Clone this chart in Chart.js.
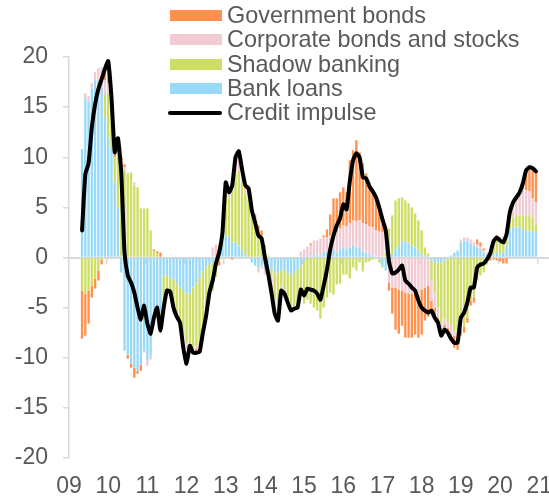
<!DOCTYPE html>
<html>
<head>
<meta charset="utf-8">
<script src="https://cdn.jsdelivr.net/npm/chart.js@4.4.1/dist/chart.umd.min.js"></script>
<style>
  html, body { margin: 0; padding: 0; background: #ffffff; }
  #wrap { position: relative; width: 549px; height: 500px; overflow: hidden; }
  #chart { position: absolute; left: 0; top: 0; }
  #legend { position: absolute; left: 0; top: 0; width: 549px; height: 130px; pointer-events: none;
            font-family: "Liberation Sans", Arial, sans-serif; font-size: 23.4px; color: #595959; }
  .li { position: absolute; left: 168px; height: 24.4px; line-height: 24.4px; white-space: nowrap; }
  .sw { position: absolute; top: 7px; left: 2px; width: 52px; height: 11px; }
  .ln { position: absolute; top: 10.5px; left: 0; width: 54px; height: 4px; border-radius: 2px; }
  .tx { position: absolute; left: 59px; top: 0; }
</style>
</head>
<body>
<div id="wrap">
  <canvas id="chart" width="549" height="500"></canvas>
  <div id="legend"></div>
</div>
<script>
// ---- categories: monthly, Jan 2009 .. Apr 2021 ----
const years = ['2009','2010','2011','2012','2013','2014','2015','2016','2017','2018','2019','2020','2021'];
const monthNames = ['01','02','03','04','05','06','07','08','09','10','11','12'];
const lastMonthCount = 4; // months shown for final year (axis runs to Apr 2021)

// ---- series (percent of GDP), one row per year, Jan..Dec ----
const bankLoans = [
  null,null,null,null,10.8,15.9,15.5,16.8,17.6,17.7,17.0,14.0,
  12.0,11.0,7.5,5.0,-1.5,-9.3,-9.7,-10.6,-11.0,-11.3,-10.7,-9.3,
  -10.3,-9.8,-6.8,-5.6,-5.5,-1.8,-1.8,-2.0,-2.2,-2.6,-3.0,-3.3,
  -3.6,-3.6,-3.0,-2.6,-2.0,-1.4,-1.0,-0.7,-0.5,-0.3,0.3,1.0,
  2.2,2.0,1.5,1.5,1.2,0.8,0.3,0.0,-0.5,-0.8,-1.0,-0.8,
  -1.2,-1.0,-1.2,-1.5,-1.5,-1.3,-1.2,-1.5,-1.8,-1.5,-1.2,-0.8,
  -0.3,0.2,0.0,0.3,0.2,0.2,0.5,0.6,0.7,0.8,0.5,0.8,
  1.0,0.8,1.0,1.2,1.0,1.0,0.6,0.5,0.3,0.2,0.0,-0.2,
  -0.8,-1.3,-0.5,0.3,0.8,1.2,1.6,1.6,1.4,1.2,1.0,0.7,
  0.3,0.2,0.1,-0.3,-0.5,-0.5,-0.5,-0.3,-0.2,0.2,0.5,0.7,
  1.5,1.7,1.6,1.4,1.2,1.0,0.8,0.5,0.3,0.3,0.3,0.5,
  0.3,0.6,1.2,2.8,3.0,3.0,3.0,2.8,2.7,2.6,2.6,2.5,
  null,null,null,null
];
const shadowBanking = [
  null,null,null,null,-3.3,-3.6,-3.3,-2.8,-2.1,-1.3,-0.2,2.2,
  4.4,4.0,2.5,6.3,9.0,8.7,8.3,8.5,7.2,7.0,4.9,4.9,
  4.9,2.7,0.6,0.4,-1.5,-3.2,-1.5,-1.4,-2.8,-3.0,-3.5,-4.5,
  -4.9,-5.0,-6.1,-6.2,-6.8,-6.1,-4.8,-2.8,-2.8,-1.6,-0.3,0.5,
  4.5,4.0,5.2,6.8,7.4,6.8,6.0,5.8,4.5,3.8,2.8,2.2,
  1.0,0.2,-0.5,-2.6,-3.8,-1.5,-2.0,-2.7,-3.3,-3.4,-3.6,-3.0,
  -4.3,-4.2,-4.6,-5.0,-5.3,-6.1,-5.0,-4.0,-3.5,-3.7,-2.7,-2.6,
  -1.7,-1.7,-2.1,-1.0,-1.3,-0.5,-1.4,-0.5,-0.4,-0.2,-0.1,-0.3,
  -0.2,0.5,2.9,3.9,4.9,4.7,4.4,4.1,4.0,3.8,3.4,3.0,
  2.4,0.8,0.3,-2.0,-3.0,-4.5,-6.0,-5.8,-6.2,-6.8,-7.3,-7.6,
  -7.2,-6.9,-6.0,-4.3,-4.0,-2.3,-1.8,-1.5,-0.7,0.1,1.2,1.5,
  1.5,1.3,1.4,0.5,1.0,1.2,1.2,1.4,1.5,1.6,1.4,0.8,
  null,null,null,null
];
const corporateBonds = [
  null,null,null,null,0,0.5,0.6,0.6,0.9,1.2,2.0,1.5,
  1.0,0.5,0,0.3,0.5,0.3,0.2,0,0.3,0,0,-0.2,
  -0.5,-0.4,0,0,-0.3,0,0,0,0,-0.3,0,-0.3,
  -0.6,0,-0.3,-0.3,-0.5,0,0,0,1.0,1.3,1.0,1.0,
  0.8,0.5,0.5,1.7,2.0,1.2,0.5,0.3,0.2,0,-0.5,-0.3,
  -0.5,-0.8,-1.8,-1.5,-1.0,-0.5,-0.4,-0.3,-0.2,-0.2,-0.2,0.6,
  0.8,0.9,1.2,1.4,1.5,1.7,1.5,1.4,1.5,1.8,2.0,2.1,
  2.2,2.3,2.4,2.5,2.6,2.7,2.8,2.8,2.8,2.8,2.7,2.6,
  2.5,2.2,-2.0,-3.0,-3.0,-3.2,-3.3,-3.5,-3.6,-3.6,-3.7,-3.8,
  -3.2,-3.0,-2.8,-2.0,-1.5,-1.0,-0.8,-0.6,-0.6,-0.8,-0.5,-0.3,
  0.3,0.3,0.4,0.4,0.3,0.3,0.3,0.2,0.2,0.3,0.3,0.3,
  0.3,0.2,0.3,1.0,1.2,1.5,2.5,2.6,2.5,2.4,1.9,2.2,
  null,null,null,null
];
const governmentBonds = [
  null,null,null,null,-4.8,-4.2,-3.3,-1.2,-1.0,-1.0,-0.5,1.5,
  2.0,0.5,0.5,0.3,0.5,0.3,-0.4,-0.4,-1.0,-0.3,-0.6,0,
  0,0,0.2,0.2,0.5,0,0,0,0,0,0,0,
  0,0,0,-0.4,0,0,0,0,0,0,-0.5,0,
  0,0,-0.2,0,0,0,0.4,0.8,0.5,0.5,0.4,0.5,
  0.2,0,0,0,0,0,0,0,0,0,0,0,
  0,0,0.2,0,0,0,0.2,0.8,2.1,3.3,3.4,3.6,
  3.8,3.4,6.3,7.0,8.1,6.8,6.0,5.1,4.4,3.8,3.3,1.9,
  1.2,0.5,-0.8,-2.6,-4.2,-4.4,-3.5,-4.5,-4.4,-4.4,-4.0,-4.2,
  -4.5,-3.3,-3.1,-1.0,-1.0,-0.5,-0.5,-0.5,-0.5,-0.7,-1.2,-1.3,
  -0.6,-0.6,-0.5,-0.5,-0.5,0.5,0.4,0.2,0,-0.3,-0.2,-0.3,
  -0.4,-0.6,-0.6,0.2,0.3,0.3,0,0.6,2.0,2.4,3.0,3.1,
  null,null,null,null
];
const creditImpulse = [
  null,null,null,null,2.7,8.3,9.4,13.0,15.3,16.8,17.8,18.8,
  19.6,16.0,10.5,11.9,8.5,0.5,-1.8,-2.5,-3.5,-5.0,-6.2,-4.8,
  -6.6,-7.6,-6.0,-5.0,-7.3,-5.0,-3.3,-3.4,-5.0,-5.9,-6.5,-9.0,
  -10.6,-8.8,-9.5,-9.5,-9.4,-7.5,-5.8,-3.5,-2.3,-0.6,0.5,2.5,
  7.5,6.5,7.2,10.0,10.6,8.8,7.2,6.9,4.7,3.5,2.2,1.9,
  0.0,-1.6,-3.5,-5.6,-6.3,-3.3,-3.6,-4.5,-5.3,-5.1,-5.0,-3.2,
  -3.8,-3.1,-3.2,-3.3,-3.6,-4.2,-2.8,-1.2,0.8,2.2,3.2,3.9,
  5.3,4.8,7.6,9.7,10.4,10.0,8.0,7.9,7.1,6.6,6.0,5.0,
  3.8,2.7,-0.4,-1.6,-1.5,-1.2,-0.8,-2.3,-2.6,-3.0,-3.3,-4.3,
  -5.0,-5.3,-5.5,-5.3,-6.0,-6.5,-7.8,-7.2,-7.5,-8.1,-8.5,-8.5,
  -6.0,-5.5,-4.5,-3.0,-3.0,-1.0,-0.7,-0.6,-0.2,0.4,1.6,2.0,
  1.7,1.5,2.3,4.5,5.5,6.0,6.5,7.4,8.7,9.0,8.9,8.6,
  null,null,null,null
];

// ---- y-axis tick values ----
const yMin = -20, yMax = 20, yStep = 5;

// ---- build month categories ----
const months = [];
years.forEach((y, yi) => {
  const n = (yi === years.length - 1) ? lastMonthCount : 12;
  for (let m = 0; m < n; m++) months.push(y + '-' + monthNames[m]);
});

const AXIS = '#d9d9d9';
const TEXT = '#595959';
const FONT = { family: '"Liberation Sans", Arial, sans-serif', size: 23 };

const COLORS = {
  gov: '#ff914d',
  corp: '#f2cad4',
  shadow: '#cedd63',
  bank: '#98d9f8',
  line: '#000000'
};

const barCommon = { stack: 'bars', barPercentage: 0.72, categoryPercentage: 1.0, borderWidth: 0, xAxisID: 'x', yAxisID: 'y' };

function noSidePadding(s) { s.paddingLeft = 0; s.paddingRight = 0; }

const chart = new Chart(document.getElementById('chart'), {
  type: 'bar',
  data: {
    labels: months,
    datasets: [
      Object.assign({ label: 'Bank loans', data: bankLoans, backgroundColor: COLORS.bank }, barCommon),
      Object.assign({ label: 'Shadow banking', data: shadowBanking, backgroundColor: COLORS.shadow }, barCommon),
      Object.assign({ label: 'Corporate bonds and stocks', data: corporateBonds, backgroundColor: COLORS.corp }, barCommon),
      Object.assign({ label: 'Government bonds', data: governmentBonds, backgroundColor: COLORS.gov }, barCommon),
      { type: 'line', label: 'Credit impulse', data: creditImpulse, stack: 'line', order: -1,
        borderColor: COLORS.line, backgroundColor: COLORS.line, borderWidth: 4, pointRadius: 0,
        tension: 0.15, borderJoinStyle: 'round', borderCapStyle: 'round', fill: false,
        xAxisID: 'x', yAxisID: 'y' }
    ]
  },
  options: {
    responsive: false,
    animation: false,
    devicePixelRatio: 1,
    layout: { padding: { top: 57, right: 0, bottom: 0, left: 0 } },
    plugins: { legend: { display: false }, tooltip: { enabled: false } },
    scales: {
      x: {
        type: 'category', axis: 'x', position: { y: 0 }, offset: false, stacked: true,
        grid: { display: true, drawOnChartArea: false, drawTicks: true, tickLength: 5, lineWidth: 1.5,
                tickColor: (ctx) => (ctx.index % 12 === 0 ? AXIS : 'rgba(0,0,0,0)') },
        border: { display: true, color: AXIS, width: 2 },
        ticks: { display: false, autoSkip: false },
        afterFit: noSidePadding
      },
      xl: {
        type: 'category', axis: 'x', position: 'bottom', offset: false,
        grid: { display: false, drawTicks: false },
        border: { display: false },
        ticks: {
          autoSkip: false, maxRotation: 0, minRotation: 0, padding: 15, color: TEXT, font: FONT,
          callback: function (v) {
            const l = this.getLabelForValue(v);
            return l.endsWith('-01') ? l.slice(2, 4) : '';
          }
        },
        afterFit: (s) => { s.height = 42; noSidePadding(s); }
      },
      y: {
        type: 'linear', stacked: true, min: yMin, max: yMax,
        ticks: { stepSize: yStep, color: TEXT, font: FONT, padding: 15 },
        grid: { drawOnChartArea: false, drawTicks: true, tickLength: 6, tickColor: AXIS, lineWidth: 1.5 },
        border: { display: true, color: AXIS, width: 1.5 },
        afterFit: (s) => { s.width = 69; }
      }
    }
  }
});

// ---- HTML legend (reverse stacking order, then line) ----
const legendEl = document.getElementById('legend');
const ds = chart.data.datasets;
const legendOrder = [3, 2, 1, 0, 4];
const rowTop = 2.8, rowStep = 24.4;
legendOrder.forEach((di, r) => {
  const d = ds[di];
  const item = document.createElement('div');
  item.className = 'li';
  item.style.top = (rowTop + r * rowStep) + 'px';
  const mark = document.createElement('div');
  if (d.type === 'line') { mark.className = 'ln'; mark.style.background = d.borderColor; }
  else { mark.className = 'sw'; mark.style.background = d.backgroundColor; }
  const tx = document.createElement('span');
  tx.className = 'tx';
  tx.textContent = d.label;
  item.appendChild(mark);
  item.appendChild(tx);
  legendEl.appendChild(item);
});
</script>
</body>
</html>
